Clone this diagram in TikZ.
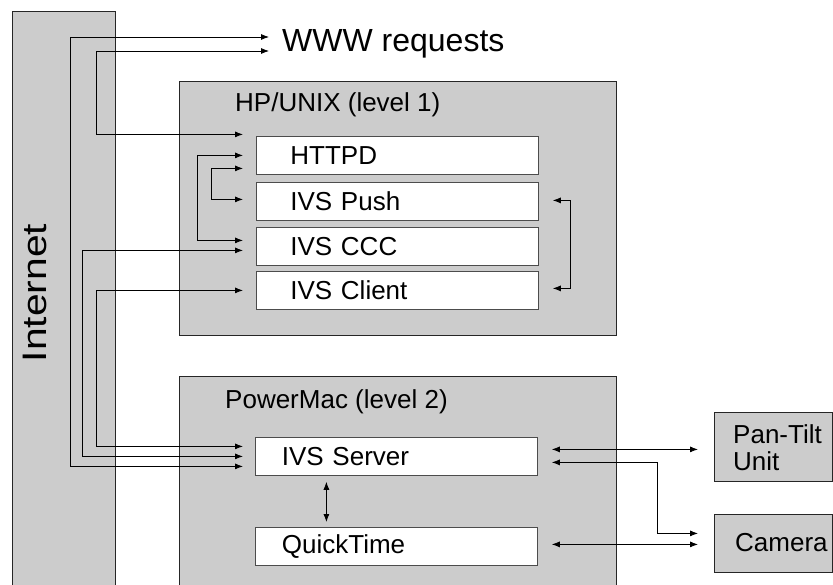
\documentclass[tikz,border=0pt]{standalone}
\usepackage{fontspec}
\setmainfont{Liberation Sans}
\usetikzlibrary{arrows.meta}

\tikzset{
  greybox/.style={draw=black!85, fill=black!20, line width=0.8pt, anchor=north west, inner sep=0pt},
  procbox/.style={draw=black!70, fill=white, line width=0.8pt, anchor=north west,
    minimum width=282pt, minimum height=38pt, text width=214pt, align=left,
    inner sep=0pt, font=\fontsize{26}{30}\selectfont},
  lbl/.style={anchor=west, inner sep=0pt, font=\fontsize{26}{27}\selectfont},
  link/.style={<->, >={Latex[length=8pt,width=6pt]}, line width=0.8pt}
}

\begin{document}
\begin{tikzpicture}[x=1pt, y=-1pt]
\useasboundingbox (0,0) rectangle (833,585);

% hosts
\node[greybox, minimum width=103pt, minimum height=590pt] (internet) at (12,11) {};
\node[rotate=90, xscale=1.2, inner sep=0pt, font=\fontsize{34}{38}\selectfont] (internet-label) at (35,293) {Internet};
\node[greybox, minimum width=437pt, minimum height=254pt] (hpunix) at (179,81) {};
\node[greybox, minimum width=437pt, minimum height=230pt] (powermac) at (179,376) {};
\node[greybox, minimum width=118pt, minimum height=69pt] (pantilt) at (714,412) {};
\node[greybox, minimum width=118pt, minimum height=58pt] (camera) at (714,514) {};

\node[lbl] (hpunix-label) at (235,105) {HP/UNIX (level 1)};
\node[lbl] (powermac-label) at (225,402) {PowerMac (level 2)};
\node[lbl, align=left] (pantilt-label) at (733,448) {Pan-Tilt\\Unit};
\node[lbl] (camera-label) at (735,543) {Camera};
\node[lbl, font=\fontsize{32}{36}\selectfont] (www) at (282,44) {WWW requests};

% processes
\node[procbox] (httpd) at (256,136) {HTTPD};
\node[procbox] (push) at (256,182) {IVS Push};
\node[procbox] (ccc) at (256,227) {IVS CCC};
\node[procbox] (client) at (256,271) {IVS Client};
\node[procbox, text width=229pt] (server) at (255,437) {IVS Server};
\node[procbox, text width=229pt] (quicktime) at (255,527) {QuickTime};

% arrow ends
\coordinate (www-in1) at ([xshift=-13pt, yshift=7pt]www.west);
\coordinate (www-in2) at ([xshift=-13pt, yshift=-7pt]www.west);
\foreach \n/\s in {1/21, 2/0, 3/-13}
  \coordinate (httpd-in\n) at ([xshift=-13pt, yshift=\s pt]httpd.west);
\coordinate (push-in) at ([xshift=-13pt, yshift=2pt]push.west);
\coordinate (push-out) at ([xshift=14pt, yshift=1pt]push.east);
\coordinate (ccc-in1) at ([xshift=-13pt, yshift=6pt]ccc.west);
\coordinate (ccc-in2) at ([xshift=-13pt, yshift=-4pt]ccc.west);
\coordinate (client-in) at ([xshift=-13pt]client.west);
\coordinate (client-out) at ([xshift=14pt, yshift=2pt]client.east);
\foreach \n/\s in {1/10, 2/0, 3/-10}
  \coordinate (server-in\n) at ([xshift=-12pt, yshift=\s pt]server.west);
\coordinate (server-out1) at ([xshift=14pt, yshift=7pt]server.east);
\coordinate (server-out2) at ([xshift=14pt, yshift=-6pt]server.east);
\coordinate (quicktime-out) at ([xshift=14pt, yshift=2pt]quicktime.east);
\coordinate (pantilt-in) at ([xshift=-16pt]pantilt.west |- server-out1);
\coordinate (camera-in1) at ([xshift=-16pt, yshift=10pt]camera.west);
\coordinate (camera-in2) at ([xshift=-16pt]camera.west |- quicktime-out);
\foreach \n/\x in {1/70, 2/82, 3/96, 4/197, 5/211, 6/570, 7/657}
  \coordinate (bus\n) at (\x,0);

% connections
\draw[link] (www-in1) -| (bus1 |- server-in3) -- (server-in3);
\draw[link] (www-in2) -| (bus3 |- httpd-in1) -- (httpd-in1);
\draw[link] (ccc-in2) -| (bus2 |- server-in2) -- (server-in2);
\draw[link] (client-in) -| (bus3 |- server-in1) -- (server-in1);
\draw[link] (httpd-in2) -| (bus4 |- ccc-in1) -- (ccc-in1);
\draw[link] (httpd-in3) -| (bus5 |- push-in) -- (push-in);
\draw[link] (push-out) -| (bus6 |- client-out) -- (client-out);
\draw[link] (server-out1) -- (pantilt-in);
\draw[link] (server-out2) -| (bus7 |- camera-in1) -- (camera-in1);
\draw[link] (quicktime-out) -- (camera-in2);
\draw[link, shorten <=6pt, shorten >=5pt] ([xshift=-70pt]server.south) -- ([xshift=-70pt]quicktime.north);
\end{tikzpicture}
\end{document}
